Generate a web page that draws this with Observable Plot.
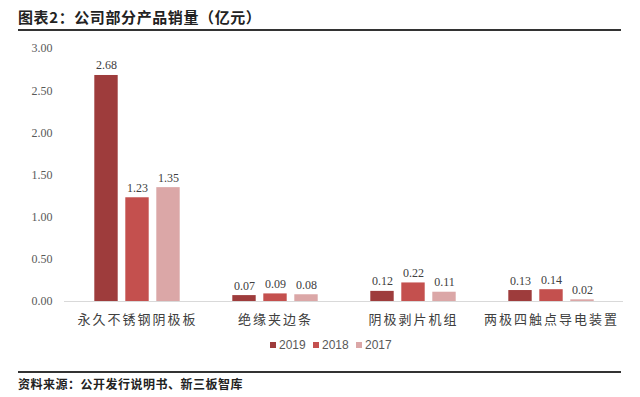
<!DOCTYPE html>
<html>
<head>
<meta charset="utf-8">
<script src="https://cdn.jsdelivr.net/npm/d3@7"></script>
<script src="https://cdn.jsdelivr.net/npm/@observablehq/plot@0.6"></script>
<style>
  html, body { margin: 0; padding: 0; background: #fff; }
  #page { position: relative; width: 640px; height: 397px; overflow: hidden; background: #fff; }
  #title { position: absolute; left: 18px; top: 6px; font-family: "Noto Sans CJK SC", sans-serif; font-weight: bold; font-size: 15px; line-height: 22px; color: #222; letter-spacing: 0.6px; white-space: nowrap; }
  .rule { position: absolute; left: 18px; width: 603px; height: 2px; background: #333; }
  #chart { position: absolute; left: 0; top: 32px; }
  #legend { position: absolute; top: 337px; left: 0; width: 640px; height: 16px; font-family: "Liberation Sans", sans-serif; font-size: 12px; color: #595959; }
  .item { position: absolute; top: 0; line-height: 16px; white-space: nowrap; }
  .sw { display: inline-block; width: 6px; height: 6px; margin-right: 3px; vertical-align: 1px; }
  #source { position: absolute; left: 18px; top: 375px; font-family: "Noto Sans CJK SC", sans-serif; font-weight: bold; font-size: 12px; line-height: 18px; color: #222; letter-spacing: 0.5px; white-space: nowrap; }
</style>
</head>
<body>
<div id="page">
  <div id="title">图表2：公司部分产品销量（亿元）</div>
  <div class="rule" style="top:29px"></div>
  <div id="chart"></div>
  <div id="legend"></div>
  <div class="rule" style="top:371px"></div>
  <div id="source">资料来源：公开发行说明书、新三板智库</div>
</div>
<script>
const categories = ["永久不锈钢阴极板", "绝缘夹边条", "阴极剥片机组", "两极四触点导电装置"];
const years = ["2019", "2018", "2017"];
const v2019 = [2.68, 0.07, 0.12, 0.13];
const v2018 = [1.23, 0.09, 0.22, 0.14];
const v2017 = [1.35, 0.08, 0.11, 0.02];
const yTicks = [0, 0.5, 1, 1.5, 2, 2.5, 3];
const colors = ["#9E3C3C", "#C4504E", "#DBA7A7"];

const series = [v2019, v2018, v2017];
const offsets = [-31, 0, 31];
const barW = 24;

const marks = [Plot.ruleY([0], {stroke: "#d9d9d9", strokeWidth: 1})];
series.forEach((vals, i) => {
  const data = categories.map((c, j) => ({category: c, value: vals[j], year: years[i]}));
  marks.push(Plot.barY(data, {
    x: "category", y: "value", fill: colors[i],
    insetLeft: (138.6 - barW) / 2, insetRight: (138.6 - barW) / 2, dx: offsets[i]
  }));
  marks.push(Plot.text(data, {
    x: "category", y: "value", text: d => d.value.toFixed(2),
    dx: offsets[i], dy: -6, lineAnchor: "bottom",
    fill: "#404040", fontSize: 12, fontFamily: "Liberation Serif, serif"
  }));
});

const chart = Plot.plot({
  width: 640,
  height: 303,
  marginTop: 16,
  marginBottom: 34,
  marginLeft: 64,
  marginRight: 17,
  style: {fontFamily: "Noto Sans CJK SC, sans-serif", fontSize: "13px", color: "#404040", background: "transparent"},
  x: {domain: categories, padding: 0, insetLeft: 2.5, insetRight: 2.2, tickSize: 0, tickPadding: 13, label: null},
  y: {domain: [0, 3], ticks: yTicks, tickFormat: d => d.toFixed(2), tickSize: 0, tickPadding: 12, label: null},
  marks
});

d3.select(chart).selectAll('g[aria-label^="y-axis"] text')
  .attr("font-family", "Liberation Serif, serif")
  .style("font-family", "Liberation Serif, serif")
  .attr("font-size", 12).style("font-size", "12px")
  .attr("fill", "#595959");
d3.select(chart).selectAll('g[aria-label^="x-axis"] text')
  .style("letter-spacing", "2px")
  .attr("fill", "#404040");

document.getElementById("chart").appendChild(chart);

const legend = document.getElementById("legend");
const legendX = [270, 313, 356];
years.forEach((y, i) => {
  const item = document.createElement("div");
  item.className = "item";
  item.style.left = legendX[i] + "px";
  item.innerHTML = `<span class="sw" style="background:${colors[i]}"></span>${y}`;
  legend.appendChild(item);
});
</script>
</body>
</html>
